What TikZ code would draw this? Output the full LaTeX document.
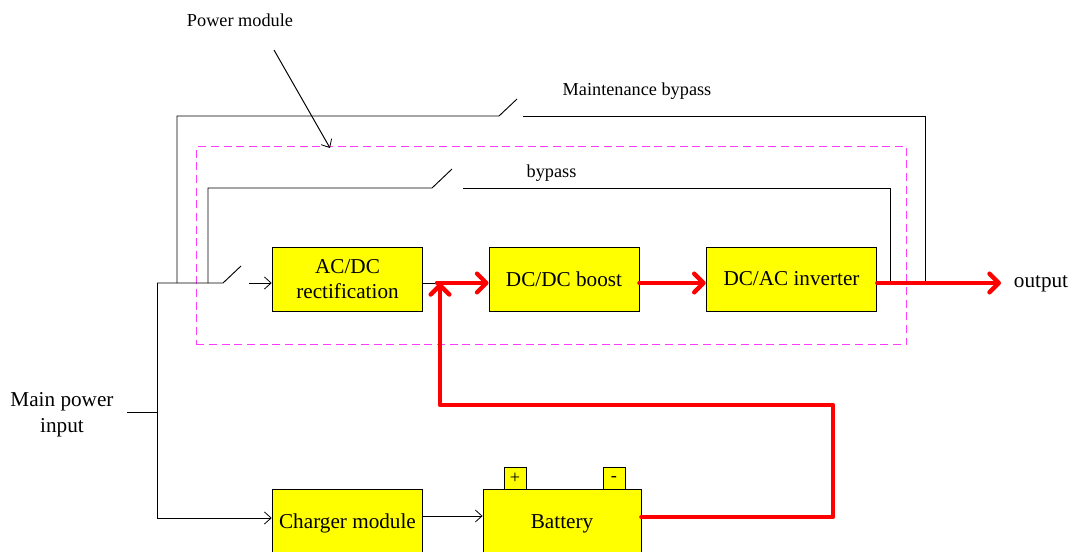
\documentclass[tikz,border=0pt]{standalone}
\usepackage{fontspec}
\setmainfont{Liberation Serif}
\usetikzlibrary{arrows.meta}
\usetikzlibrary{positioning}
\definecolor{boxyellow}{RGB}{255,255,0}
\definecolor{purered}{RGB}{255,0,0}
\definecolor{modulepink}{RGB}{255,60,255}
\tikzset{
    powerbox/.style={draw=black,fill=boxyellow,line width=0.65pt,inner sep=0pt,align=center,font=\fontsize{15.9}{19.5}\selectfont},
    thinline/.style={draw=black,line width=0.7pt},
    openarrow/.style={-{Straight Barb[length=5pt,width=9pt,line width=0.6pt]}},
    redline/.style={draw=purered,line width=3.3pt,line cap=round,line join=round},
    redarrow/.style={-{Straight Barb[length=7pt,width=14pt,round,line width=3.3pt]}},
    label/.style={font=\fontsize{13.7}{16}\selectfont,inner sep=0pt}
}
\begin{document}
\begin{tikzpicture}[x=0.75pt,y=-0.75pt]
    \clip (0,0) rectangle (1072,551);
    % boxes
    \begin{scope}[every node/.style={powerbox}]
    \node[minimum width=16.5pt,minimum height=16.5pt,font=\fontsize{13.7}{16}\selectfont] (plus) at (515,478.5) {+};
    \node[minimum width=16.5pt,minimum height=16.5pt,font=\fontsize{13.7}{16}\selectfont] (minus) at (614,478.5) {-};
    \node[minimum width=113pt,minimum height=48pt] (acdc) at (347.5,279) {AC/DC\\[-0.5pt]rectification};
    \node[minimum width=112.5pt,minimum height=48pt] (boost) at (564,279) {DC/DC boost};
    \node[minimum width=128pt,minimum height=48pt] (inverter) at (791.5,279) {DC/AC inverter};
    \node[minimum width=113pt,minimum height=52pt] (charger) at (347.5,523.7) {Charger module};
    \node[minimum width=118.5pt,minimum height=52pt] (battery) at (562,523.7) {Battery};
    \end{scope}
    % labels
    \begin{scope}[every node/.style={label}]
    \node (powerlabel) at (240,20) {Power module};
    \node (maintlabel) at (637,91) {Maintenance bypass};
    \node (bypasslabel) at (551.5,173) {bypass};
    \node[font=\fontsize{15.9}{19.5}\selectfont] (output) at (1041,284) {output};
    \node[font=\fontsize{15.9}{19.5}\selectfont,align=center] (mainpower) at (62,414.5) {Main power\\input};
    \end{scope}
    % dashed power module
    \node[draw=modulepink,dash pattern=on 6pt off 3.5pt,line width=0.7pt,minimum width=533pt,minimum height=148pt,inner sep=0pt] (module) at (551.5,245.5) {};
    % free ends
    \coordinate (modtop) at (330,148);
    \coordinate (powerstart) at (274,50);
    \coordinate (inputstub) at (127,412);
    \coordinate (inputbus) at (157,412);
    \coordinate (bustop) at (157,283);
    \coordinate (busbottom) at (157,518);
    \coordinate (swa) at (223,283);
    \coordinate (swb) at (241,266);
    \coordinate (swc) at (249,283);
    \coordinate (maintin) at (177,283);
    \coordinate (mainta) at (499,116);
    \coordinate (maintb) at (517,99);
    \coordinate (maintc) at (523,116);
    \coordinate (maintout) at (925,283);
    \coordinate (bypin) at (208,283);
    \coordinate (bypa) at (432,188);
    \coordinate (bypb) at (452,169);
    \coordinate (bypc) at (463,188);
    \coordinate (bypout) at (890,283);
    \coordinate (junction) at (440,283);
    \coordinate (turnin) at (440,405);
    \coordinate (turnout) at (833,405);
    \coordinate (batout) at (833,517);
    \coordinate (outend) at (1001,283);
    \coordinate (chargerout) at (423,516);
    \coordinate (redstart) at (437,283);
    % thin wires
    \begin{scope}[every edge/.style={thinline}]
    \path (powerstart) edge[openarrow] (modtop);
    \path (inputstub) edge (inputbus);
    \path (swc) edge[openarrow] (swc -| acdc.west);
    \path (acdc.east |- junction) edge (junction);
    \path (chargerout) edge[openarrow] (chargerout -| battery.west);
    \end{scope}
    \draw[thinline,openarrow] (bustop) -- (busbottom) -- (busbottom -| charger.west);
    \draw[thinline] (bustop) -- (swa) -- (swb);
    \draw[thinline] (maintin) |- (mainta) -- (maintb);
    \draw[thinline] (maintc) -| (maintout);
    \draw[thinline] (bypin) |- (bypa) -- (bypb);
    \draw[thinline] (bypc) -| (bypout);
    % red wires
    \begin{scope}[every edge/.style={redline,redarrow}]
    \path (redstart) edge (redstart -| boost.west);
    \path (boost.east |- junction) edge (inverter.west |- junction);
    \path (inverter.east |- junction) edge (outend);
    \end{scope}
    \draw[redline,redarrow] (battery.east |- batout) -- (batout) -- (turnout) -- (turnin) -- (junction);
\end{tikzpicture}
\end{document}
